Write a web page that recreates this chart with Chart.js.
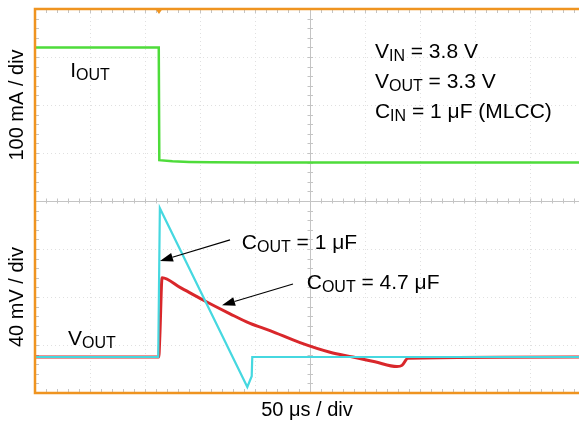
<!DOCTYPE html>
<html>
<head>
<meta charset="utf-8">
<script src="https://cdn.jsdelivr.net/npm/chart.js@4.4.0/dist/chart.umd.min.js"></script>
<style>
  body { margin: 0; background: #fff; }
  #wrap { width: 579px; height: 425px; }
</style>
</head>
<body>
<div id="wrap"><canvas id="scope" width="579" height="425"></canvas></div>
<script>
// time in us, 50 us / div
const ioutTime = [0, 112.5, 113, 125, 140, 160, 200, 494.5];
const ioutMa = [240, 240, 5, 3, 1.5, 0.5, 0, 0];

// Vout deviation in mV, 40 mV / div
const vout1Time = [0, 112, 113.5, 193, 197, 197.5, 494.5];
const vout1Mv = [0, 0, 124, -25, -16, 0, 0];

const vout47Time = [0, 112.5, 113.5, 115.5, 131.8, 152.7, 177.3, 195.5, 213.6, 240.9, 268.2, 289, 309, 329, 333.6, 339, 494.5];
const vout47Mv = [0, 0, 18, 66, 58, 47.5, 36, 28, 22, 12, 4, 0, -4, -8, -7, -1, 0];

const triggerUs = 112.7;
const yLabels = ['100 mA / div', '40 mV / div'];
const xLabel = '50 \u03bcs / div';

const AXIS_FONT = '20px "Liberation Sans", Arial, sans-serif';
const MAIN_FONT = '21px "Liberation Sans", Arial, sans-serif';
const SUB_FONT = '16px "Liberation Sans", Arial, sans-serif';
const ORANGE = '#ef9420';

// notes: x in us, y in divisions from the bottom
const notes = [
    { x: 32, y: 6.58, parts: [['I', 0], ['OUT', 1]] },
    { x: 309, y: 6.98, parts: [['V', 0], ['IN', 1], [' = 3.8 V', 0]] },
    { x: 309, y: 6.35, parts: [['V', 0], ['OUT', 1], [' = 3.3 V', 0]] },
    { x: 309, y: 5.73, parts: [['C', 0], ['IN', 1], [' = 1 \u03bcF (MLCC)', 0]] },
    { x: 30, y: 1.0, parts: [['V', 0], ['OUT', 1]] },
    { x: 188, y: 3.0, parts: [['C', 0], ['OUT', 1], [' = 1 \u03bcF', 0]] },
    { x: 247, y: 2.17, parts: [['C', 0], ['OUT', 1], [' = 4.7 \u03bcF', 0]] }
];
const arrows = [
    { x0: 177.3, y0: 3.19, x1: 113.6, y1: 2.75 },
    { x0: 234.5, y0: 2.27, x1: 170, y1: 1.83 }
];

function toPoints(xs, ys) {
    return xs.map((x, i) => ({ x: x, y: ys[i] }));
}

function drawRich(ctx, parts, x, y) {
    let cx = x;
    parts.forEach(([txt, sub]) => {
        ctx.font = sub ? SUB_FONT : MAIN_FONT;
        ctx.fillText(txt, cx, sub ? y + 3 : y);
        cx += ctx.measureText(txt).width;
    });
}

const scopeFrame = {
    id: 'scopeFrame',
    beforeDatasetsDraw(chart) {
        const { ctx, chartArea: a, scales } = chart;
        const cx = scales.x.getPixelForValue(250);
        const cy = scales.grid.getPixelForValue(4);
        const dx = 55 / 5, dy = 48 / 5;
        ctx.save();
        ctx.strokeStyle = '#c4c4c4';
        ctx.lineWidth = 1;
        ctx.beginPath();
        ctx.moveTo(Math.round(cx) + 0.5, a.top);
        ctx.lineTo(Math.round(cx) + 0.5, a.bottom);
        ctx.moveTo(a.left, Math.round(cy) + 0.5);
        ctx.lineTo(a.right, Math.round(cy) + 0.5);
        // minor ticks on centre lines and frame
        for (let x = a.left; x <= a.right; x += dx) {
            const px = Math.round(x) + 0.5;
            ctx.moveTo(px, cy - 2.5); ctx.lineTo(px, cy + 2.5);
            ctx.moveTo(px, a.top); ctx.lineTo(px, a.top + 4);
            ctx.moveTo(px, a.bottom); ctx.lineTo(px, a.bottom - 4);
        }
        for (let y = a.top; y <= a.bottom; y += dy) {
            const py = Math.round(y) + 0.5;
            ctx.moveTo(cx - 2.5, py); ctx.lineTo(cx + 3, py);
            ctx.moveTo(a.left, py); ctx.lineTo(a.left + 4, py);
        }
        ctx.stroke();
        ctx.restore();
    },
    afterDraw(chart) {
        const { ctx, chartArea: a, scales } = chart;
        const sx = scales.x, sy = scales.grid;
        ctx.save();
        // orange frame
        ctx.strokeStyle = ORANGE;
        ctx.lineWidth = 2.5;
        ctx.beginPath();
        ctx.moveTo(a.right, a.top);
        ctx.lineTo(a.left, a.top);
        ctx.lineTo(a.left, a.bottom);
        ctx.lineTo(a.right, a.bottom);
        ctx.stroke();
        // trigger marker
        const tx = sx.getPixelForValue(triggerUs);
        ctx.fillStyle = ORANGE;
        ctx.beginPath();
        ctx.moveTo(tx - 3.5, a.top);
        ctx.lineTo(tx + 3.5, a.top);
        ctx.lineTo(tx, a.top + 5);
        ctx.closePath();
        ctx.fill();

        // notes
        ctx.fillStyle = '#000';
        ctx.textBaseline = 'alphabetic';
        ctx.textAlign = 'left';
        notes.forEach(n => drawRich(ctx, n.parts, sx.getPixelForValue(n.x), sy.getPixelForValue(n.y)));

        // arrows
        ctx.strokeStyle = '#000';
        ctx.lineWidth = 1.2;
        arrows.forEach(ar => {
            const x0 = sx.getPixelForValue(ar.x0), y0 = sy.getPixelForValue(ar.y0);
            const x1 = sx.getPixelForValue(ar.x1), y1 = sy.getPixelForValue(ar.y1);
            const ang = Math.atan2(y1 - y0, x1 - x0);
            const len = 13, half = 4.5;
            const bx = x1 - len * Math.cos(ang), by = y1 - len * Math.sin(ang);
            ctx.beginPath();
            ctx.moveTo(x0, y0);
            ctx.lineTo(bx, by);
            ctx.stroke();
            ctx.beginPath();
            ctx.moveTo(x1, y1);
            ctx.lineTo(bx + half * Math.sin(ang), by - half * Math.cos(ang));
            ctx.lineTo(bx - half * Math.sin(ang), by + half * Math.cos(ang));
            ctx.closePath();
            ctx.fill();
        });

        // axis labels
        ctx.font = AXIS_FONT;
        ctx.textAlign = 'center';
        ctx.textBaseline = 'middle';
        [6, 2].forEach((d, i) => {
            ctx.save();
            ctx.translate(a.left - 18, sy.getPixelForValue(d));
            ctx.rotate(-Math.PI / 2);
            ctx.fillText(yLabels[i], 0, 0);
            ctx.restore();
        });
        ctx.fillText(xLabel, (a.left + a.right) / 2, a.bottom + 17);
        ctx.restore();
    }
};

new Chart(document.getElementById('scope'), {
    type: 'line',
    data: {
        datasets: [
            {
                label: 'IOUT',
                data: toPoints(ioutTime, ioutMa),
                yAxisID: 'yI',
                borderColor: '#4edc3a',
                borderWidth: 2.5
            },
            {
                label: 'COUT = 1 uF',
                data: toPoints(vout1Time, vout1Mv),
                yAxisID: 'yV',
                borderColor: '#46d8e0',
                borderWidth: 2.2
            },
            {
                label: 'COUT = 4.7 uF',
                data: toPoints(vout47Time, vout47Mv),
                yAxisID: 'yV',
                borderColor: '#d9272b',
                borderWidth: 3,
                cubicInterpolationMode: 'monotone'
            }
        ]
    },
    options: {
        responsive: false,
        animation: false,
        layout: { padding: { left: 35, top: 9, right: 0, bottom: 32 } },
        elements: { point: { radius: 0 }, line: { tension: 0 } },
        plugins: { legend: { display: false }, tooltip: { enabled: false } },
        scales: {
            x: {
                type: 'linear',
                min: 0,
                max: 494.5,
                ticks: { display: false, stepSize: 50, includeBounds: false },
                grid: { color: '#e0e0e0', drawTicks: false },
                border: { display: false, dash: [1, 3] }
            },
            grid: {
                type: 'linear',
                position: 'left',
                min: 0,
                max: 8,
                ticks: { display: false, stepSize: 1 },
                grid: { color: '#e0e0e0', drawTicks: false },
                border: { display: false, dash: [1, 3] }
            },
            yI: { type: 'linear', display: false, min: -480, max: 320 },
            yV: { type: 'linear', display: false, min: -30, max: 290 }
        }
    },
    plugins: [scopeFrame]
});
</script>
</body>
</html>
